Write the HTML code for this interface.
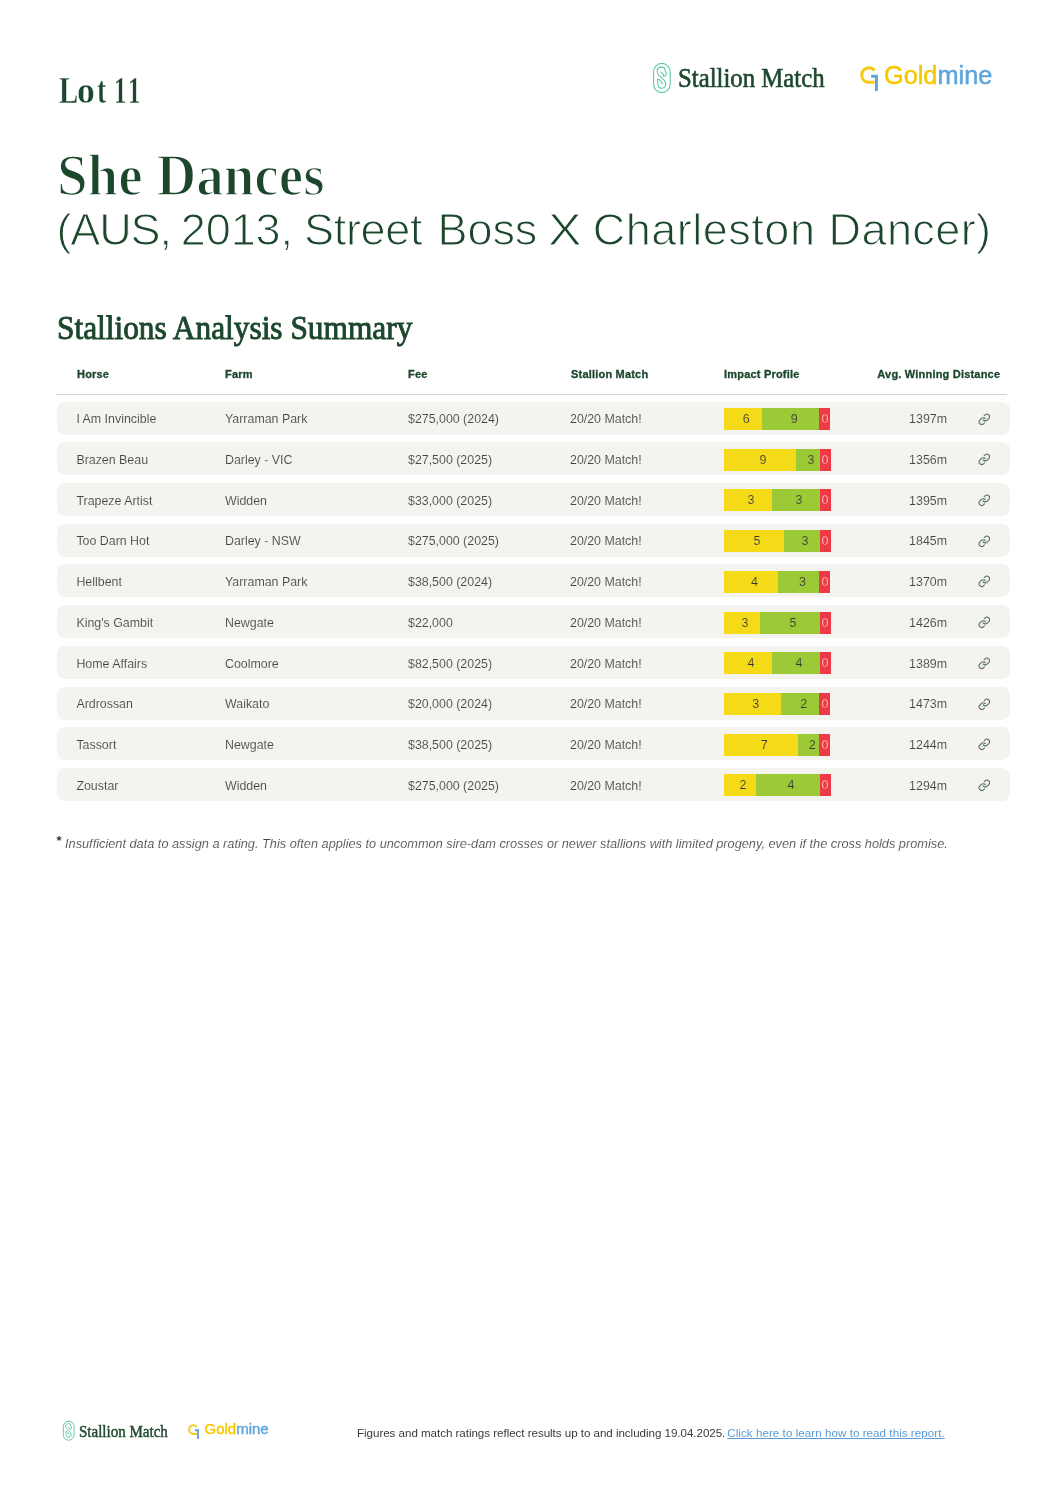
<!DOCTYPE html>
<html>
<head>
<meta charset="utf-8">
<style>
*{margin:0;padding:0;box-sizing:border-box;}
html,body{width:1061px;height:1500px;background:#fff;overflow:hidden;}
body{position:relative;will-change:transform;font-family:"Liberation Sans",sans-serif;color:#444;}
.abs{position:absolute;white-space:nowrap;}
.serif{font-family:"Liberation Serif",serif;}
.g{color:#1c472d;}
#lot{left:0;top:71px;font-size:38px;font-weight:bold;line-height:1;-webkit-text-stroke:0.4px #fff;}
#lot span{position:absolute;top:0;transform-origin:0 0;}
#name{left:57px;top:146px;font-size:59px;font-weight:bold;line-height:1;transform-origin:0 0;transform:scaleX(0.933);-webkit-text-stroke:1.7px #fff;}
#sub{left:0;top:207px;font-size:45px;line-height:1;letter-spacing:-0.09px;-webkit-text-stroke:1.1px #fff;}
#sum{left:57px;top:312px;font-size:33px;line-height:1;transform-origin:0 0;-webkit-text-stroke:0.9px #1c472d;transform:scaleX(0.95);}
.th{position:absolute;top:367px;font-size:11px;font-weight:bold;color:#1c472d;line-height:14px;letter-spacing:0.2px;-webkit-text-stroke:0.3px #1c472d;}
#hline{position:absolute;left:56px;top:394px;width:951px;height:1px;background:#cfd1ce;}
.row{position:absolute;left:57px;width:953px;height:33px;background:#f4f3f0;border-radius:8px;}
.row .c{position:absolute;top:1.8px;line-height:33px;font-size:12.4px;color:#454545;white-space:nowrap;-webkit-text-stroke:0.1px #f4f3f0;}
.bar{position:absolute;left:666.5px;top:6.5px;width:107px;height:22px;display:flex;}
.bar div{height:22px;line-height:22px;font-size:12.5px;text-align:center;color:#3a3a3a;flex:none;}
.bar .y{-webkit-text-stroke:0.15px #f4da17;} .bar .gr{-webkit-text-stroke:0.15px #9cc936;}
.bar .y{background:#f4da17;padding-left:7px;}
.bar .gr{background:#9cc936;padding-left:7px;}
.bar .r{background:#ee3a44;width:11px;flex:none;color:#ffe0e0;-webkit-text-stroke:0.35px #ee3a44;}
.dist{position:absolute;right:63px;top:1.8px;line-height:33px;font-size:12.4px;color:#454545;-webkit-text-stroke:0.1px #f4f3f0;}
.link{position:absolute;left:920.5px;top:11px;width:12.6px;height:12.6px;}
#foot{left:65px;top:838px;font-size:12.75px;font-style:italic;color:#444;line-height:1;-webkit-text-stroke:0.15px #fff;}

.smicon{position:absolute;}
#smtext{left:678px;top:65px;font-size:26.7px;line-height:1;transform-origin:0 0;-webkit-text-stroke:0.6px #1c472d;transform:scaleX(0.928);}
#gmtext{left:884px;top:63px;font-size:25.3px;line-height:1;-webkit-text-stroke:0.5px currentColor;}
#gmtext .a{color:#f6c800;-webkit-text-stroke:0.5px #f6c800;} #gmtext .b{color:#5ea5dc;-webkit-text-stroke:0.5px #5ea5dc;}
#fsmtext{left:78.5px;top:1423.5px;font-size:16.5px;line-height:1;transform-origin:0 0;-webkit-text-stroke:0.45px #1c472d;transform:scaleX(0.91);}
#fgmtext{left:204.5px;top:1421px;font-size:15px;line-height:1;}
#fgmtext .a{color:#f6c800;-webkit-text-stroke:0.4px #f6c800;} #fgmtext .b{color:#5ea5dc;-webkit-text-stroke:0.4px #5ea5dc;}
#ftxt{left:357px;top:1427px;font-size:11.6px;line-height:1;color:#3a3a3a;letter-spacing:-0.04px;}
#flink{left:727.3px;top:1427px;font-size:11.6px;line-height:1;color:#5b9bd5;text-decoration:underline;letter-spacing:0.05px;}
#ast{left:56.5px;top:834px;font-size:13px;font-weight:bold;color:#333;line-height:1;}
#sub .w{position:absolute;top:0;}
</style>
</head>
<body>
<svg class="smicon" style="left:650px;top:60px" width="24" height="36" viewBox="0 0 24 36" fill="none" stroke="#5cc89c" stroke-width="1.1" stroke-linecap="round" stroke-linejoin="round">
<rect x="3.6" y="3.4" width="16.6" height="29.2" rx="8.3"/>
<path d="M14.6 8.2 C13 6.8 9.6 6.7 8.1 8.3 C6.6 9.9 7 13 8.6 14.9 L13.6 19.6 C15.6 21.6 16.1 24.6 15.1 26.5 C14 28.5 10.2 28.8 8.7 27.1 C7.9 25.6 7.6 22.2 7.5 19.3 L9.3 19.3 L12.5 23.6"/>
<path d="M14.6 8.2 L15.2 11 C15.9 12.1 16.6 13 16.3 14.3 C16 15.6 14.8 16.2 13.4 16.2 L13.3 14.4 L10.9 12.1"/>
</svg>
<div class="abs serif g" id="smtext">Stallion Match</div>
<svg class="smicon" style="left:860px;top:66px" width="18" height="26" viewBox="0 0 18 26" fill="none" stroke-width="3">
<path d="M14.4 4.6 C13 2.6 11 1.8 9 1.8 C4.6 1.8 1.8 5 1.8 9 C1.8 13.2 4.8 16.3 9 16.3 L14.4 16.3" stroke="#f5c90a"/>
<path d="M11.2 10.2 L16.4 10.2 L16.4 25" stroke="#5ea5dc"/>
</svg>
<div class="abs" id="gmtext"><span class="a">Gold</span><span class="b">mine</span></div>
<div class="abs serif g" id="lot"><span style="left:59px;transform:scaleX(0.76)">L</span><span style="left:77.4px;transform:scaleX(0.94)">o</span><span style="left:97.1px;transform:scaleX(0.72)">t</span><span style="left:113.7px;transform:scaleX(0.65)">1</span><span style="left:127.9px;transform:scaleX(0.65)">1</span></div>
<div class="abs serif g" id="name">She Dances</div>
<div class="abs g" id="sub"><span class="w" style="left:56.4px;letter-spacing:-1.1px">(AUS,</span><span class="w" style="left:180.8px;">2013,</span><span class="w" style="left:304.0px;letter-spacing:-0.3px">Street</span><span class="w" style="left:437.6px;">Boss</span><span class="w" style="left:548.0px;transform:scaleX(1.12);transform-origin:0 0">X</span><span class="w" style="left:592.8px;letter-spacing:0.5px">Charleston</span><span class="w" style="left:828.6px;letter-spacing:0.4px">Dancer)</span></div>
<div class="abs serif g" id="sum">Stallions Analysis Summary</div>

<div class="th" style="left:77px">Horse</div>
<div class="th" style="left:225px">Farm</div>
<div class="th" style="left:408px">Fee</div>
<div class="th" style="left:571px">Stallion Match</div>
<div class="th" style="left:724px">Impact Profile</div>
<div class="th" style="right:60.8px">Avg. Winning Distance</div>
<div id="hline"></div>

<!--ROWS-->
<div class="row" style="top:401.50px"><div class="c" style="left:19.4px">I Am Invincible</div><div class="c" style="left:168px">Yarraman Park</div><div class="c" style="left:351px">$275,000 (2024)</div><div class="c" style="left:513px">20/20 Match!</div><div class="bar"><div class="y" style="width:38.40px">6</div><div class="gr" style="width:57.60px">9</div><div class="r">0</div></div><div class="dist">1397m</div><svg class="link" viewBox="0 0 24 24"><rect x="10.4" y="5.6" width="10.4" height="5.6" rx="2.8" transform="rotate(-45 15.6 8.4)" fill="#e2f2e8"/><rect x="3.2" y="12.8" width="10.4" height="5.6" rx="2.8" transform="rotate(-45 8.4 15.6)" fill="#e2f2e8"/><g fill="none" stroke="#5b6a60" stroke-width="2.0" stroke-linecap="round" stroke-linejoin="round"><path d="M10 13a5 5 0 0 0 7.54.54l3-3a5 5 0 0 0-7.07-7.07l-1.72 1.71"/><path d="M14 11a5 5 0 0 0-7.54-.54l-3 3a5 5 0 0 0 7.07 7.07l1.71-1.71"/></g></svg></div>
<div class="row" style="top:442.22px"><div class="c" style="left:19.4px">Brazen Beau</div><div class="c" style="left:168px">Darley - VIC</div><div class="c" style="left:351px">$27,500 (2025)</div><div class="c" style="left:513px">20/20 Match!</div><div class="bar"><div class="y" style="width:72.00px">9</div><div class="gr" style="width:24.00px">3</div><div class="r">0</div></div><div class="dist">1356m</div><svg class="link" viewBox="0 0 24 24"><rect x="10.4" y="5.6" width="10.4" height="5.6" rx="2.8" transform="rotate(-45 15.6 8.4)" fill="#e2f2e8"/><rect x="3.2" y="12.8" width="10.4" height="5.6" rx="2.8" transform="rotate(-45 8.4 15.6)" fill="#e2f2e8"/><g fill="none" stroke="#5b6a60" stroke-width="2.0" stroke-linecap="round" stroke-linejoin="round"><path d="M10 13a5 5 0 0 0 7.54.54l3-3a5 5 0 0 0-7.07-7.07l-1.72 1.71"/><path d="M14 11a5 5 0 0 0-7.54-.54l-3 3a5 5 0 0 0 7.07 7.07l1.71-1.71"/></g></svg></div>
<div class="row" style="top:482.94px"><div class="c" style="left:19.4px">Trapeze Artist</div><div class="c" style="left:168px">Widden</div><div class="c" style="left:351px">$33,000 (2025)</div><div class="c" style="left:513px">20/20 Match!</div><div class="bar"><div class="y" style="width:48.00px">3</div><div class="gr" style="width:48.00px">3</div><div class="r">0</div></div><div class="dist">1395m</div><svg class="link" viewBox="0 0 24 24"><rect x="10.4" y="5.6" width="10.4" height="5.6" rx="2.8" transform="rotate(-45 15.6 8.4)" fill="#e2f2e8"/><rect x="3.2" y="12.8" width="10.4" height="5.6" rx="2.8" transform="rotate(-45 8.4 15.6)" fill="#e2f2e8"/><g fill="none" stroke="#5b6a60" stroke-width="2.0" stroke-linecap="round" stroke-linejoin="round"><path d="M10 13a5 5 0 0 0 7.54.54l3-3a5 5 0 0 0-7.07-7.07l-1.72 1.71"/><path d="M14 11a5 5 0 0 0-7.54-.54l-3 3a5 5 0 0 0 7.07 7.07l1.71-1.71"/></g></svg></div>
<div class="row" style="top:523.66px"><div class="c" style="left:19.4px">Too Darn Hot</div><div class="c" style="left:168px">Darley - NSW</div><div class="c" style="left:351px">$275,000 (2025)</div><div class="c" style="left:513px">20/20 Match!</div><div class="bar"><div class="y" style="width:60.00px">5</div><div class="gr" style="width:36.00px">3</div><div class="r">0</div></div><div class="dist">1845m</div><svg class="link" viewBox="0 0 24 24"><rect x="10.4" y="5.6" width="10.4" height="5.6" rx="2.8" transform="rotate(-45 15.6 8.4)" fill="#e2f2e8"/><rect x="3.2" y="12.8" width="10.4" height="5.6" rx="2.8" transform="rotate(-45 8.4 15.6)" fill="#e2f2e8"/><g fill="none" stroke="#5b6a60" stroke-width="2.0" stroke-linecap="round" stroke-linejoin="round"><path d="M10 13a5 5 0 0 0 7.54.54l3-3a5 5 0 0 0-7.07-7.07l-1.72 1.71"/><path d="M14 11a5 5 0 0 0-7.54-.54l-3 3a5 5 0 0 0 7.07 7.07l1.71-1.71"/></g></svg></div>
<div class="row" style="top:564.38px"><div class="c" style="left:19.4px">Hellbent</div><div class="c" style="left:168px">Yarraman Park</div><div class="c" style="left:351px">$38,500 (2024)</div><div class="c" style="left:513px">20/20 Match!</div><div class="bar"><div class="y" style="width:54.86px">4</div><div class="gr" style="width:41.14px">3</div><div class="r">0</div></div><div class="dist">1370m</div><svg class="link" viewBox="0 0 24 24"><rect x="10.4" y="5.6" width="10.4" height="5.6" rx="2.8" transform="rotate(-45 15.6 8.4)" fill="#e2f2e8"/><rect x="3.2" y="12.8" width="10.4" height="5.6" rx="2.8" transform="rotate(-45 8.4 15.6)" fill="#e2f2e8"/><g fill="none" stroke="#5b6a60" stroke-width="2.0" stroke-linecap="round" stroke-linejoin="round"><path d="M10 13a5 5 0 0 0 7.54.54l3-3a5 5 0 0 0-7.07-7.07l-1.72 1.71"/><path d="M14 11a5 5 0 0 0-7.54-.54l-3 3a5 5 0 0 0 7.07 7.07l1.71-1.71"/></g></svg></div>
<div class="row" style="top:605.10px"><div class="c" style="left:19.4px">King's Gambit</div><div class="c" style="left:168px">Newgate</div><div class="c" style="left:351px">$22,000</div><div class="c" style="left:513px">20/20 Match!</div><div class="bar"><div class="y" style="width:36.00px">3</div><div class="gr" style="width:60.00px">5</div><div class="r">0</div></div><div class="dist">1426m</div><svg class="link" viewBox="0 0 24 24"><rect x="10.4" y="5.6" width="10.4" height="5.6" rx="2.8" transform="rotate(-45 15.6 8.4)" fill="#e2f2e8"/><rect x="3.2" y="12.8" width="10.4" height="5.6" rx="2.8" transform="rotate(-45 8.4 15.6)" fill="#e2f2e8"/><g fill="none" stroke="#5b6a60" stroke-width="2.0" stroke-linecap="round" stroke-linejoin="round"><path d="M10 13a5 5 0 0 0 7.54.54l3-3a5 5 0 0 0-7.07-7.07l-1.72 1.71"/><path d="M14 11a5 5 0 0 0-7.54-.54l-3 3a5 5 0 0 0 7.07 7.07l1.71-1.71"/></g></svg></div>
<div class="row" style="top:645.82px"><div class="c" style="left:19.4px">Home Affairs</div><div class="c" style="left:168px">Coolmore</div><div class="c" style="left:351px">$82,500 (2025)</div><div class="c" style="left:513px">20/20 Match!</div><div class="bar"><div class="y" style="width:48.00px">4</div><div class="gr" style="width:48.00px">4</div><div class="r">0</div></div><div class="dist">1389m</div><svg class="link" viewBox="0 0 24 24"><rect x="10.4" y="5.6" width="10.4" height="5.6" rx="2.8" transform="rotate(-45 15.6 8.4)" fill="#e2f2e8"/><rect x="3.2" y="12.8" width="10.4" height="5.6" rx="2.8" transform="rotate(-45 8.4 15.6)" fill="#e2f2e8"/><g fill="none" stroke="#5b6a60" stroke-width="2.0" stroke-linecap="round" stroke-linejoin="round"><path d="M10 13a5 5 0 0 0 7.54.54l3-3a5 5 0 0 0-7.07-7.07l-1.72 1.71"/><path d="M14 11a5 5 0 0 0-7.54-.54l-3 3a5 5 0 0 0 7.07 7.07l1.71-1.71"/></g></svg></div>
<div class="row" style="top:686.54px"><div class="c" style="left:19.4px">Ardrossan</div><div class="c" style="left:168px">Waikato</div><div class="c" style="left:351px">$20,000 (2024)</div><div class="c" style="left:513px">20/20 Match!</div><div class="bar"><div class="y" style="width:57.60px">3</div><div class="gr" style="width:38.40px">2</div><div class="r">0</div></div><div class="dist">1473m</div><svg class="link" viewBox="0 0 24 24"><rect x="10.4" y="5.6" width="10.4" height="5.6" rx="2.8" transform="rotate(-45 15.6 8.4)" fill="#e2f2e8"/><rect x="3.2" y="12.8" width="10.4" height="5.6" rx="2.8" transform="rotate(-45 8.4 15.6)" fill="#e2f2e8"/><g fill="none" stroke="#5b6a60" stroke-width="2.0" stroke-linecap="round" stroke-linejoin="round"><path d="M10 13a5 5 0 0 0 7.54.54l3-3a5 5 0 0 0-7.07-7.07l-1.72 1.71"/><path d="M14 11a5 5 0 0 0-7.54-.54l-3 3a5 5 0 0 0 7.07 7.07l1.71-1.71"/></g></svg></div>
<div class="row" style="top:727.26px"><div class="c" style="left:19.4px">Tassort</div><div class="c" style="left:168px">Newgate</div><div class="c" style="left:351px">$38,500 (2025)</div><div class="c" style="left:513px">20/20 Match!</div><div class="bar"><div class="y" style="width:74.67px">7</div><div class="gr" style="width:21.33px">2</div><div class="r">0</div></div><div class="dist">1244m</div><svg class="link" viewBox="0 0 24 24"><rect x="10.4" y="5.6" width="10.4" height="5.6" rx="2.8" transform="rotate(-45 15.6 8.4)" fill="#e2f2e8"/><rect x="3.2" y="12.8" width="10.4" height="5.6" rx="2.8" transform="rotate(-45 8.4 15.6)" fill="#e2f2e8"/><g fill="none" stroke="#5b6a60" stroke-width="2.0" stroke-linecap="round" stroke-linejoin="round"><path d="M10 13a5 5 0 0 0 7.54.54l3-3a5 5 0 0 0-7.07-7.07l-1.72 1.71"/><path d="M14 11a5 5 0 0 0-7.54-.54l-3 3a5 5 0 0 0 7.07 7.07l1.71-1.71"/></g></svg></div>
<div class="row" style="top:767.98px"><div class="c" style="left:19.4px">Zoustar</div><div class="c" style="left:168px">Widden</div><div class="c" style="left:351px">$275,000 (2025)</div><div class="c" style="left:513px">20/20 Match!</div><div class="bar"><div class="y" style="width:32.00px">2</div><div class="gr" style="width:64.00px">4</div><div class="r">0</div></div><div class="dist">1294m</div><svg class="link" viewBox="0 0 24 24"><rect x="10.4" y="5.6" width="10.4" height="5.6" rx="2.8" transform="rotate(-45 15.6 8.4)" fill="#e2f2e8"/><rect x="3.2" y="12.8" width="10.4" height="5.6" rx="2.8" transform="rotate(-45 8.4 15.6)" fill="#e2f2e8"/><g fill="none" stroke="#5b6a60" stroke-width="2.0" stroke-linecap="round" stroke-linejoin="round"><path d="M10 13a5 5 0 0 0 7.54.54l3-3a5 5 0 0 0-7.07-7.07l-1.72 1.71"/><path d="M14 11a5 5 0 0 0-7.54-.54l-3 3a5 5 0 0 0 7.07 7.07l1.71-1.71"/></g></svg></div>
<!--/ROWS-->

<div class="abs" id="ast">*</div>
<div class="abs" id="foot">Insufficient data to assign a rating. This often applies to uncommon sire-dam crosses or newer stallions with limited progeny, even if the cross holds promise.</div>
<svg class="smicon" style="left:61.1px;top:1419.4px" width="15.6" height="23.4" viewBox="0 0 24 36" fill="none" stroke="#5cc89c" stroke-width="1.4" stroke-linecap="round" stroke-linejoin="round">
<rect x="3.6" y="3.4" width="16.6" height="29.2" rx="8.3"/>
<path d="M14.6 8.2 C13 6.8 9.6 6.7 8.1 8.3 C6.6 9.9 7 13 8.6 14.9 L13.6 19.6 C15.6 21.6 16.1 24.6 15.1 26.5 C14 28.5 10.2 28.8 8.7 27.1 C7.9 25.6 7.6 22.2 7.5 19.3 L9.3 19.3 L12.5 23.6"/>
<path d="M14.6 8.2 L15.2 11 C15.9 12.1 16.6 13 16.3 14.3 C16 15.6 14.8 16.2 13.4 16.2 L13.3 14.4 L10.9 12.1"/>
</svg>
<div class="abs serif g" id="fsmtext">Stallion Match</div>
<svg class="smicon" style="left:188px;top:1423.5px" width="11" height="15.9" viewBox="0 0 18 26" fill="none" stroke-width="3">
<path d="M14.4 4.6 C13 2.6 11 1.8 9 1.8 C4.6 1.8 1.8 5 1.8 9 C1.8 13.2 4.8 16.3 9 16.3 L14.4 16.3" stroke="#f5c90a"/>
<path d="M11.2 10.2 L16.4 10.2 L16.4 25" stroke="#5ea5dc"/>
</svg>
<div class="abs" id="fgmtext"><span class="a">Gold</span><span class="b">mine</span></div>
<div class="abs" id="ftxt">Figures and match ratings reflect results up to and including 19.04.2025.</div><div class="abs" id="flink">Click here to learn how to read this report.</div>
</body>
</html>
